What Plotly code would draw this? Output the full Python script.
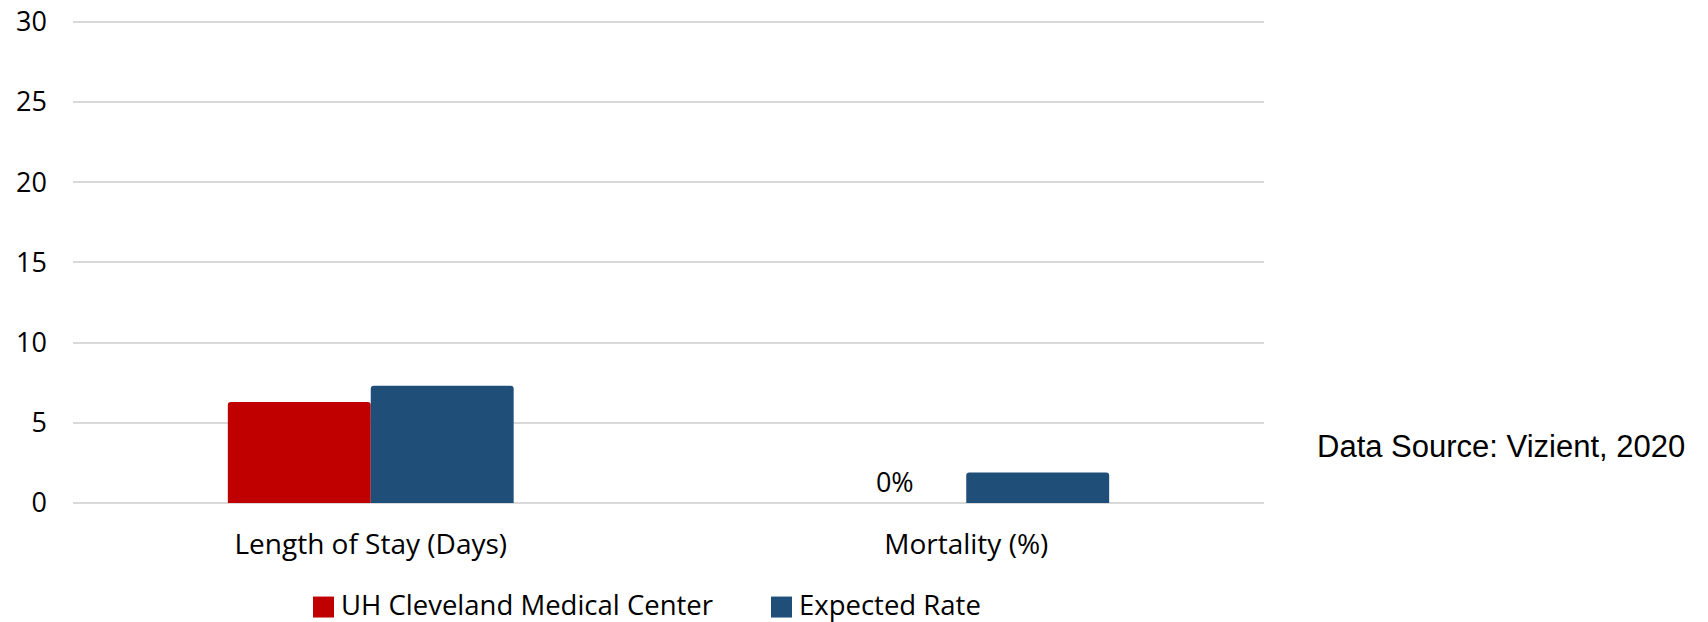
import plotly.graph_objects as go

categories = ["Length of Stay (Days)", "Mortality (%)"]
series_names = ["UH Cleveland Medical Center", "Expected Rate"]
uh_values = [6.3, 0]
expected_values = [7.3, 1.9]
uh_labels = ["", "0%"]
colors = ["#C00000", "#1F4E79"]
y_ticks = [0, 5, 10, 15, 20, 25, 30]
source_note = "Data Source: Vizient, 2020"

FONT = "Open Sans"
W, H = 1708, 622
# plot area in page pixels: x 73..1264, y 19.6..503.3
ML = 73
MT = 19.6
MR = W - 1264
MB = H - 503.3

fig = go.Figure()
fig.add_trace(go.Bar(
    x=categories, y=uh_values, name=series_names[0],
    marker=dict(color=colors[0], cornerradius=3, line=dict(width=0)),
    text=uh_labels, textposition="outside", cliponaxis=False,
    textfont=dict(family=FONT, size=27, color="#000000"),
    showlegend=False,
))
fig.add_trace(go.Bar(
    x=categories, y=expected_values, name=series_names[1],
    marker=dict(color=colors[1], cornerradius=3, line=dict(width=0)),
    showlegend=False,
))

pw = W - ML - MR
ph = H - MT - MB
def px_x(v):  # page pixel -> paper
    return (v - ML) / pw
def px_y(v):
    return (H - MB - v) / ph

# custom legend (larger keys like the reference)
legend_items = [(series_names[0], colors[0], 313), (series_names[1], colors[1], 771)]
for name, col, x0 in legend_items:
    fig.add_shape(type="rect", xref="paper", yref="paper",
                  x0=px_x(x0), x1=px_x(x0 + 21), y0=px_y(597), y1=px_y(618),
                  fillcolor=col, line=dict(width=0))
    fig.add_annotation(text=name, xref="paper", yref="paper",
                       x=px_x(x0 + 26), y=px_y(605), xanchor="left", yanchor="middle",
                       showarrow=False, font=dict(family=FONT, size=27.5, color="#000000"))

fig.add_annotation(text=source_note, xref="paper", yref="paper",
                   x=px_x(1501), y=px_y(447), xanchor="center", yanchor="middle",
                   showarrow=False, font=dict(family="Liberation Sans", size=31, color="#000000"))

fig.update_layout(
    width=W, height=H,
    margin=dict(l=ML, r=MR, t=MT, b=MB, pad=0, autoexpand=False),
    paper_bgcolor="white", plot_bgcolor="white",
    barmode="group", bargap=0.52, bargroupgap=0,
    font=dict(family=FONT, size=27, color="#000000"),
    showlegend=False,
)
fig.update_yaxes(
    range=[0, 30.1], tickvals=y_ticks, ticktext=[str(t) for t in y_ticks],
    showgrid=True, gridcolor="#D9D9D9", gridwidth=1.5,
    zeroline=True, zerolinecolor="#D9D9D9", zerolinewidth=1.5,
    showline=False, ticks="", ticklabelstandoff=25, automargin=False,
    ticklabeloverflow="allow",
    tickfont=dict(family=FONT, size=27, color="#000000"),
)
fig.update_xaxes(
    showgrid=False, showline=False, ticks="", ticklabelstandoff=22, automargin=False,
    ticklabeloverflow="allow",
    tickfont=dict(family=FONT, size=28, color="#000000"),
)

fig.write_html("out.html", config={"displayModeBar": False},
               post_script="document.body.style.margin='0px';")
